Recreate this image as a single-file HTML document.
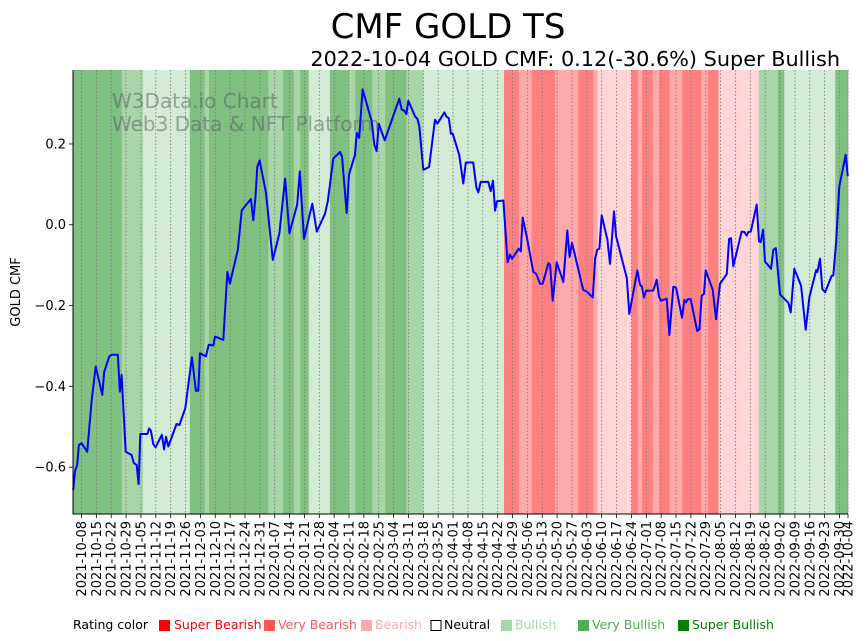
<!DOCTYPE html>
<html><head><meta charset="utf-8"><style>
html,body{margin:0;padding:0;background:#fff;}
svg{display:block;font-family:"DejaVu Sans","Liberation Sans",sans-serif;}
</style></head><body>
<svg id="chart" width="867" height="641" viewBox="0 0 867 641" xmlns="http://www.w3.org/2000/svg">
<text x="448" y="38" text-anchor="middle" font-size="34">CMF GOLD TS</text>
<text x="840" y="66" text-anchor="end" font-size="20.8">2022-10-04 GOLD CMF: 0.12(-30.6%) Super Bullish</text>
<g id="bands"></g>
<g id="grid"></g>
<text x="112" y="108" font-size="20" fill="#556" fill-opacity="0.5">W3Data.io Chart</text>
<text x="112" y="131" font-size="20" fill="#556" fill-opacity="0.5">Web3 Data &amp; NFT Platform</text>
<path id="line" fill="none" stroke="#0000ff" stroke-width="2" stroke-linejoin="round"></path>
<g id="yaxis"></g>
<g id="xaxis"></g>
<text transform="translate(20,292) rotate(-90)" text-anchor="middle" font-size="13">GOLD CMF</text>
<g id="legend" font-size="12.5">
<text x="73" y="629" fill="#000">Rating color</text>
<rect x="159" y="620" width="11" height="11" fill="#ff0000"/>
<text x="174" y="629" fill="#ff0000">Super Bearish</text>
<rect x="264" y="620" width="11" height="11" fill="#ff5555"/>
<text x="278" y="629" fill="#ff5555">Very Bearish</text>
<rect x="361" y="620" width="11" height="11" fill="#ffaaaa"/>
<text x="375" y="629" fill="#ffaaaa">Bearish</text>
<rect x="431" y="620.5" width="10" height="10" fill="none" stroke="#000"/>
<text x="444" y="629" fill="#000">Neutral</text>
<rect x="501" y="620" width="11" height="11" fill="#a5d6a7"/>
<text x="515" y="629" fill="#a5d6a7">Bullish</text>
<rect x="578" y="620" width="11" height="11" fill="#4caf50"/>
<text x="592" y="629" fill="#4caf50">Very Bullish</text>
<rect x="678" y="620" width="11" height="11" fill="#008000"/>
<text x="692" y="629" fill="#008000">Super Bullish</text>
</g>
</svg>
<script>
const bandStarts = [0,23,33,55,62,64,92,99,104,107,111,121,130,133,141,147,157,165,203,210,216,227,231,238,245,247,263,266,268,273,276,281,287,296,299,304,323,332,335,359];
const bandRatings = ["SBu","VBu","Bu","SBu","VBu","SBu","VBu","SBu","VBu","SBu","Bu","SBu","VBu","SBu","VBu","SBu","VBu","Bu","SBe","VBe","SBe","VBe","VBe","SBe","VBe","Be","SBe","VBe","SBe","VBe","SBe","VBe","SBe","VBe","SBe","Be","VBu","SBu","Bu","SBu"];
const dayIdx = [0.1,0.9,2.0,2.8,4.1,6.7,8.8,10.7,13.8,14.7,17.1,18.2,21.1,22.1,22.9,24.8,27.6,28.7,30.0,30.9,31.7,35.0,35.9,36.7,37.8,38.9,41.8,42.9,43.8,44.9,48.8,50.1,52.9,56.0,57.9,59.0,59.8,62.6,63.9,66.1,66.9,70.8,72.7,73.9,77.6,79.5,83.8,84.9,85.9,86.8,87.9,90.9,94.1,97.2,99.9,101.9,105.6,106.8,108.8,112.7,114.8,118.7,120.0,122.6,125.8,126.7,128.9,130.0,132.8,133.6,134.8,136.4,140.7,141.9,143.0,144.0,146.8,153.7,154.8,155.9,157.0,157.9,161.1,162.2,163.1,165.0,167.7,170.5,171.6,174.9,176.0,177.0,178.0,178.8,181.9,183.8,185.0,188.5,190.0,190.9,192.0,195.6,196.7,197.8,198.8,199.7,202.7,204.7,205.8,206.8,209.9,210.9,211.8,213.7,216.8,218.1,220.0,221.2,223.9,224.7,225.9,227.8,230.9,232.8,233.9,235.0,240.3,241.9,244.8,245.9,246.9,247.9,249.0,251.7,252.9,254.8,255.8,260.8,262.0,265.8,267.1,267.9,268.9,269.9,273.3,274.9,276.0,276.9,279.6,280.9,282.7,284.0,286.8,287.9,288.7,289.5,290.9,294.0,295.0,296.1,297.2,298.0,301.3,302.9,304.7,307.9,309.0,309.9,311.0,314.9,316.2,317.3,318.1,319.2,322.0,323.1,323.9,325.0,325.9,328.8,329.8,331.0,333.0,336.9,338.0,339.7,342.9,345.1,346.8,350.0,350.6,351.8,352.9,354.2,357.3,358.1,359.4,360.9,363.9,364.9];
const cmfValues = [-0.657,-0.611,-0.595,-0.545,-0.541,-0.562,-0.434,-0.351,-0.421,-0.364,-0.326,-0.322,-0.322,-0.413,-0.372,-0.562,-0.57,-0.59,-0.595,-0.642,-0.518,-0.518,-0.504,-0.51,-0.543,-0.551,-0.52,-0.556,-0.525,-0.549,-0.493,-0.496,-0.454,-0.328,-0.411,-0.411,-0.318,-0.326,-0.297,-0.299,-0.277,-0.285,-0.117,-0.146,-0.062,0.036,0.064,0.011,0.066,0.143,0.159,0.079,-0.087,-0.021,0.114,-0.021,0.05,0.132,-0.035,0.052,-0.017,0.027,0.058,0.164,0.18,0.169,0.029,0.124,0.173,0.227,0.215,0.335,0.256,0.198,0.182,0.25,0.209,0.312,0.285,0.283,0.274,0.307,0.268,0.262,0.244,0.136,0.143,0.26,0.25,0.278,0.267,0.264,0.225,0.226,0.173,0.102,0.154,0.154,0.092,0.08,0.106,0.106,0.083,0.109,0.035,0.058,0.06,-0.093,-0.074,-0.084,-0.059,-0.066,0.018,-0.029,-0.117,-0.121,-0.146,-0.146,-0.095,-0.099,-0.188,-0.093,-0.142,-0.014,-0.08,-0.045,-0.161,-0.165,-0.18,-0.084,-0.062,-0.059,0.023,-0.037,-0.097,0.033,-0.029,-0.132,-0.221,-0.113,-0.149,-0.153,-0.18,-0.163,-0.163,-0.136,-0.178,-0.188,-0.183,-0.273,-0.154,-0.155,-0.23,-0.186,-0.192,-0.184,-0.184,-0.263,-0.259,-0.176,-0.171,-0.113,-0.161,-0.234,-0.146,-0.122,-0.035,-0.033,-0.103,-0.017,-0.018,-0.027,-0.018,-0.017,0.05,-0.041,-0.043,-0.012,-0.091,-0.109,-0.062,-0.058,-0.173,-0.193,-0.217,-0.109,-0.151,-0.26,-0.179,-0.112,-0.117,-0.084,-0.159,-0.167,-0.126,-0.126,-0.045,0.095,0.173,0.12];
const yTicks = [-0.6,-0.4,-0.2,0.0,0.2];
const yTickLabels = ["\u22120.6","\u22120.4","\u22120.2","0.0","0.2"];

const NS="http://www.w3.org/2000/svg";
const L=73,R=848,T=70,B=514,totalDays=365,yMin=-0.716,yMax=0.383;
const start=new Date(Date.UTC(2021,9,4));
function xs(d){return L+(d/totalDays)*(R-L);}
function ys(v){return B-(v-yMin)/(yMax-yMin)*(B-T);}
function mk(tag,attrs,parent){const e=document.createElementNS(NS,tag);for(const k in attrs)e.setAttribute(k,attrs[k]);parent.appendChild(e);return e;}
const colors={SBu:"#80c080",VBu:"#a8d6a9",Bu:"#d3ebd4",SBe:"#ff8080",VBe:"#ffaaaa",Be:"#ffd5d5"};
const bandG=document.getElementById('bands');
bandStarts.forEach((s,i)=>{
  const e=i+1<bandStarts.length?bandStarts[i+1]:totalDays;
  const r=mk('rect',{x:xs(s),y:T,width:xs(e)-xs(s)+0.3,height:B-T,fill:colors[bandRatings[i]]},bandG);
  
  
});
const tickDays=[];for(let d=4;d<=361;d+=7)tickDays.push(d);tickDays.push(365);
const gridG=document.getElementById('grid'),xG=document.getElementById('xaxis');
function fmt(d){const t=new Date(start.getTime()+d*86400000);return t.toISOString().slice(0,10);}
tickDays.forEach(d=>{
  const x=xs(d);
  const g=mk('line',{x1:x,x2:x,y1:T,y2:B,stroke:"#777",'stroke-width':0.8,'stroke-dasharray':"1.5,2"},gridG);
  
  
  const tk=mk('line',{x1:x,x2:x,y1:B,y2:B+4,stroke:"#000",'stroke-width':0.8},xG);
  
  
  const t=mk('text',{transform:`translate(${x+4.5},${B+7}) rotate(-90)`,'text-anchor':'end','font-size':13},xG);
  t.textContent=fmt(d);
  
  
});
const yG=document.getElementById('yaxis');
yTicks.forEach((v,i)=>{
  const y=ys(v);
  const tk=mk('line',{x1:L-4,x2:L,y1:y,y2:y,stroke:"#000",'stroke-width':0.8},yG);
  
  
  const t=mk('text',{x:L-7,y:y+4.5,'text-anchor':'end','font-size':13},yG);
  t.textContent=yTickLabels[i];
  
  
});
const ax=mk('path',{d:`M${L},${T}V${B}H${R}`,fill:"none",stroke:"#000",'stroke-width':1},yG);


let d="";dayIdx.forEach((dd,i)=>{d+=(i?"L":"M")+xs(dd).toFixed(1)+","+ys(cmfValues[i]).toFixed(1);});
document.getElementById('line').setAttribute('d',d);
</script>
</body></html>
